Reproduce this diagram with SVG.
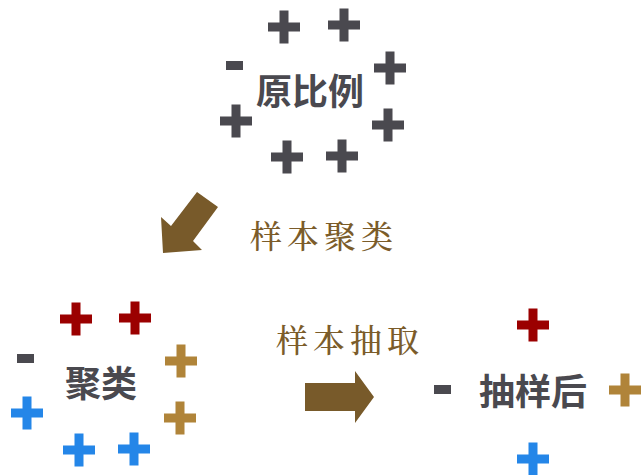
<svg xmlns="http://www.w3.org/2000/svg" xmlns:xlink="http://www.w3.org/1999/xlink" width="644" height="475" viewBox="0 0 644 475">
<style>
.gray{fill:#4a494f}
.red{fill:#9b0000}
.gold{fill:#b08439}
.blue{fill:#2486e8}
.brown{fill:#785a2a}
.lbl{font-family:"Noto Sans CJK SC","Noto Sans",sans-serif;font-weight:bold;font-size:36px;fill:#4a494f;text-anchor:middle}
.step{font-family:"Noto Serif CJK SC","Noto Sans CJK SC",serif;font-weight:500;font-size:32px;fill:#7b5c2a;text-anchor:middle;letter-spacing:5px}
</style>
<defs>
<path id="plus" d="M-16,-4.5H-4.5V-16.5H4.5V-4.5H16V4.5H4.5V16.5H-4.5V4.5H-16Z"/>
<rect id="minus" x="0" y="0" width="17" height="9"/>
</defs>
<g id="node-original">
<use href="#plus" x="284" y="27" class="gray"/>
<use href="#plus" x="344" y="25" class="gray"/>
<use href="#minus" x="226" y="61" class="gray"/>
<use href="#plus" x="390" y="68" class="gray"/>
<use href="#plus" x="236" y="121" class="gray"/>
<use href="#plus" x="388" y="125" class="gray"/>
<use href="#plus" x="287" y="157" class="gray"/>
<use href="#plus" x="342" y="156" class="gray"/>
<text class="lbl" x="310" y="105">原比例</text>
</g>
<g id="node-cluster">
<use href="#plus" x="76" y="319" class="red"/>
<use href="#plus" x="135" y="318" class="red"/>
<use href="#minus" x="17" y="354" class="gray"/>
<use href="#plus" x="181" y="361" class="gold"/>
<use href="#plus" x="180" y="418" class="gold"/>
<use href="#plus" x="27" y="413" class="blue"/>
<use href="#plus" x="79" y="450" class="blue"/>
<use href="#plus" x="134" y="449" class="blue"/>
<text class="lbl" x="101" y="397">聚类</text>
</g>
<g id="node-sampled">
<use href="#plus" x="533" y="325" class="red"/>
<use href="#minus" x="434" y="385" class="gray"/>
<use href="#plus" x="625" y="390" class="gold"/>
<use href="#plus" x="533" y="459" class="blue"/>
<text class="lbl" x="533" y="405">抽样后</text>
</g>
<g id="connectors">
<polygon class="brown" points="163,253 161,217 171,226 197,192 218,207 193,241 202,250"/>
<text class="step" x="324" y="248">样本聚类</text>
<polygon class="brown" points="305,383 355,383 355,371 374,397 355,423 355,411 305,411"/>
<text class="step" x="350" y="352">样本抽取</text>
</g>
</svg>
